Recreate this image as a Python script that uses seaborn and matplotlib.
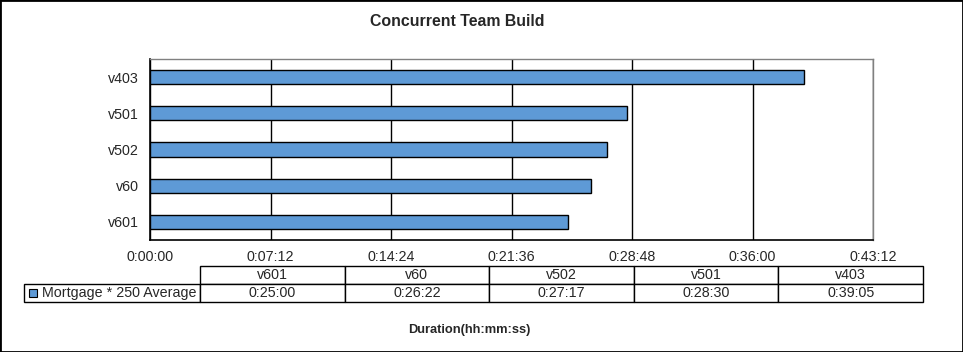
import matplotlib
matplotlib.use('Agg')
import matplotlib.pyplot as plt
import seaborn as sns
import pandas as pd
from matplotlib.patches import Rectangle
from matplotlib.ticker import FuncFormatter, MultipleLocator

# data, top to bottom as drawn
versions = ['v403', 'v501', 'v502', 'v60', 'v601']
durations = ['0:39:05', '0:28:30', '0:27:17', '0:26:22', '0:25:00']
series_name = 'Mortgage * 250 Average'

def to_sec(s):
    h, m, sec = s.split(':')
    return int(h) * 3600 + int(m) * 60 + int(sec)

def fmt(v, pos=None):
    v = int(round(v))
    return '%d:%02d:%02d' % (v // 3600, (v % 3600) // 60, v % 60)

df = pd.DataFrame({'version': versions, 'seconds': [to_sec(d) for d in durations]})

sns.set_style('white')
plt.rcParams['font.family'] = ['Liberation Sans', 'DejaVu Sans']

fig = plt.figure(figsize=(9.63, 3.52), dpi=100)
ax = fig.add_axes([150 / 963, 1 - 240 / 352, 723 / 963, 181 / 352])

sns.barplot(data=df, x='seconds', y='version', orient='h', color='#5E9AD6',
            saturation=1, width=0.39, edgecolor='black', linewidth=1, ax=ax, zorder=3)

ax.set_xlim(0, 2592)
ax.set_ylim(4.5, -0.5)
ax.xaxis.set_major_locator(MultipleLocator(432))
ax.xaxis.set_major_formatter(FuncFormatter(fmt))
ax.grid(axis='x', color='black', linewidth=1, zorder=0)
ax.set_axisbelow(True)

ax.set_yticks(range(len(versions)))
ax.set_yticklabels(versions)
ax.set_yticks([i - 0.5 for i in range(len(versions) + 1)], minor=True)
ax.tick_params(axis='y', which='major', length=0, pad=8, labelsize=10.3)
ax.tick_params(axis='y', which='minor', length=4, direction='out', width=1, color='black')
ax.tick_params(axis='x', length=4, direction='out', width=1, color='black', labelsize=10.3, pad=3)
ax.set_xlabel('')
ax.set_ylabel('')

for side in ['left', 'bottom']:
    ax.spines[side].set_color('black')
    ax.spines[side].set_linewidth(1.2)
for side in ['top', 'right']:
    ax.spines[side].set_color('#808080')
    ax.spines[side].set_linewidth(1)
    ax.spines[side].set_linestyle((0, (1, 1)))

# data table under the axis
table_cols = versions[::-1]
table_vals = durations[::-1]
w0 = 176 / 899
wc = (1 - w0) / len(table_cols)
tbl = ax.table(cellText=[[''] + table_cols, ['    ' + series_name] + table_vals],
               colWidths=[w0] + [wc] * len(table_cols),
               cellLoc='center',
               bbox=[(24 - 150) / 723, -(302 - 240) / 181, 899 / 723, 36 / 181])
tbl.auto_set_font_size(False)
for (r, c), cell in tbl.get_celld().items():
    cell.set_fontsize(10.3)
    cell.set_linewidth(1)
    cell.set_edgecolor('black')
    if r == 0 and c == 0:
        cell.visible_edges = ''
    if r == 1 and c == 0:
        cell.get_text().set_ha('left')
        cell.PAD = 0.01

fig.patches.append(Rectangle((29 / 963, 1 - 297 / 352), 8 / 963, 8 / 352,
                             transform=fig.transFigure, facecolor='#5E9AD6',
                             edgecolor='black', linewidth=0.8))

fig.text(457 / 963, 1 - 22 / 352, 'Concurrent Team Build', ha='center', va='center',
         fontsize=11.4, fontweight='bold')
fig.text(469 / 963, 1 - 330 / 352, 'Duration(hh:mm:ss)', ha='center', va='center',
         fontsize=9.3, fontweight='bold')

fig.patches.append(Rectangle((0, 0), 1, 1, transform=fig.transFigure, fill=False,
                             edgecolor='black', linewidth=2))

fig.savefig('out.png', dpi=100)
plt.close(fig)
